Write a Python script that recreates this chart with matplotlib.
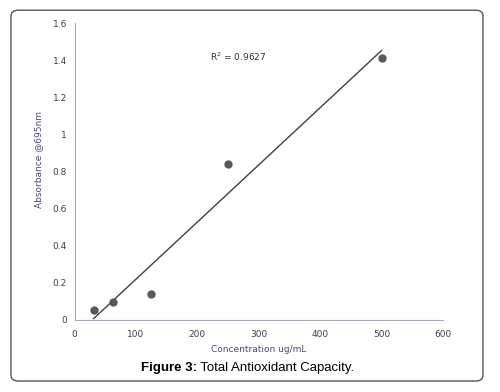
import numpy as np
import matplotlib
matplotlib.use("Agg")
import matplotlib.pyplot as plt
from matplotlib.patches import FancyBboxPatch

concentration = [31.25, 62.5, 125, 250, 500]
absorbance = [0.055, 0.097, 0.14, 0.84, 1.41]
x_ticks = [0, 100, 200, 300, 400, 500, 600]
y_ticks = [0, 0.2, 0.4, 0.6, 0.8, 1.0, 1.2, 1.4, 1.6]
y_tick_labels = ["0", "0.2", "0.4", "0.6", "0.8", "1", "1.2", "1.4", "1.6"]
r2_label = "R$^2$ = 0.9627"

fig = plt.figure(figsize=(5, 3.92), dpi=100)
ax = fig.add_axes([0.149, 0.1837, 0.737, 0.7576])

slope, intercept = np.polyfit(concentration, absorbance, 1)
xl = np.array([min(concentration), max(concentration)])
ax.plot(xl, slope * xl + intercept, color="#404040", lw=1.0, zorder=2)
ax.plot(concentration, absorbance, "o", color="#595959", ms=5, zorder=3)

ax.set_xlim(0, 600)
ax.set_ylim(0, 1.6)
ax.set_xticks(x_ticks)
ax.set_xticklabels([str(t) for t in x_ticks])
ax.set_yticks(y_ticks)
ax.set_yticklabels(y_tick_labels)
for s in ["top", "right"]:
    ax.spines[s].set_visible(False)
for s in ["left", "bottom"]:
    ax.spines[s].set_color("#a8a8cc")
    ax.spines[s].set_linewidth(0.8)
ax.tick_params(axis="y", length=0, labelsize=6.5, labelcolor="#404040", pad=5.5)
ax.tick_params(axis="x", length=0, labelsize=6.5, labelcolor="#404040", pad=7)
ax.set_xlabel("Concentration ug/mL", fontsize=6.5, color="#4a4a6a")
ax.set_ylabel("Absorbance @695nm", fontsize=6.5, color="#4a4a6a")
ax.xaxis.set_label_coords(0.5, -0.084)
ax.yaxis.set_label_coords(-0.085, 0.539)
ax.text(266, 1.42, r2_label, fontsize=6.5, color="#333333", ha="center", va="center")

frame = FancyBboxPatch((0.022, 0.028), 0.944, 0.946, boxstyle="round,pad=0,rounding_size=0.015",
                       transform=fig.transFigure, fill=False, edgecolor="#555555", lw=1.0)
fig.patches.append(frame)

t1 = fig.text(0.282, 0.062, "Figure 3:", fontsize=9.5, fontweight="bold", ha="left", va="center",
              family="Liberation Sans")
fig.canvas.draw()
bb = t1.get_window_extent()
x1 = bb.x1 / fig.bbox.width
fig.text(x1, 0.062, " Total Antioxidant Capacity.", fontsize=9.5, ha="left", va="center",
         family="Liberation Sans")

fig.savefig("out.png", dpi=100)
